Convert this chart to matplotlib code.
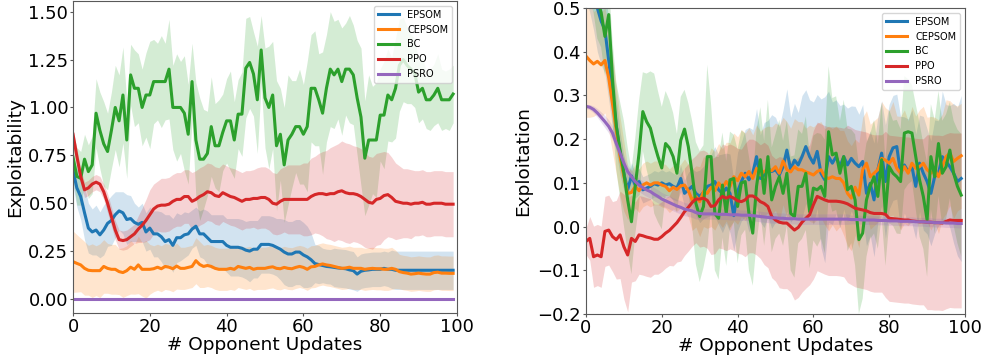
import numpy as np
import matplotlib
matplotlib.use("Agg")
import matplotlib.pyplot as plt

updates = np.arange(100)
labels = ["EPSOM", "CEPSOM", "BC", "PPO", "PSRO"]

# ---- left panel: exploitability ----
l_epsom = [0.67, 0.58, 0.535, 0.45, 0.37, 0.35, 0.36, 0.335, 0.36, 0.395,
           0.41, 0.44, 0.46, 0.45, 0.415, 0.42, 0.40, 0.39, 0.40, 0.35,
           0.37, 0.34, 0.34, 0.325, 0.30, 0.31, 0.28, 0.32, 0.32, 0.335,
           0.34, 0.365, 0.38, 0.34, 0.34, 0.32, 0.30, 0.30, 0.30, 0.30,
           0.28, 0.27, 0.27, 0.27, 0.265, 0.255, 0.25, 0.26, 0.26, 0.285,
           0.285, 0.285, 0.28, 0.27, 0.26, 0.245, 0.235, 0.235, 0.245, 0.245,
           0.23, 0.22, 0.205, 0.185, 0.18, 0.175, 0.17, 0.168, 0.165, 0.162,
           0.16, 0.158, 0.152, 0.148, 0.13, 0.145, 0.15, 0.152, 0.155, 0.155,
           0.155, 0.16, 0.155, 0.155, 0.15, 0.15, 0.15, 0.15, 0.15, 0.15,
           0.15, 0.15, 0.15, 0.15, 0.15, 0.15, 0.15, 0.15, 0.15, 0.15]
l_epsom_sd = [0.08, 0.10, 0.12, 0.14, 0.13, 0.12, 0.13, 0.12, 0.13, 0.12,
              0.13, 0.12, 0.10, 0.11, 0.13, 0.12, 0.10, 0.09, 0.10, 0.10,
              0.11, 0.12, 0.12, 0.13, 0.14, 0.13, 0.14, 0.13, 0.12, 0.12,
              0.11, 0.10, 0.10, 0.12, 0.13, 0.14, 0.14, 0.14, 0.14, 0.14,
              0.14, 0.15, 0.15, 0.15, 0.15, 0.15, 0.16, 0.15, 0.15, 0.15,
              0.15, 0.15, 0.15, 0.15, 0.16, 0.17, 0.17, 0.17, 0.17, 0.17,
              0.17, 0.16, 0.14, 0.10, 0.10, 0.09, 0.09, 0.09, 0.10, 0.10,
              0.10, 0.10, 0.10, 0.10, 0.09, 0.09, 0.09, 0.09, 0.09, 0.09,
              0.09, 0.09, 0.09, 0.10, 0.10, 0.10, 0.10, 0.10, 0.10, 0.10,
              0.10, 0.10, 0.10, 0.10, 0.10, 0.10, 0.10, 0.10, 0.10, 0.10]
l_cepsom = [0.195, 0.186, 0.178, 0.16, 0.15, 0.148, 0.148, 0.148, 0.17, 0.16,
            0.155, 0.155, 0.143, 0.138, 0.148, 0.166, 0.155, 0.178, 0.155, 0.155,
            0.155, 0.158, 0.166, 0.158, 0.17, 0.166, 0.158, 0.172, 0.16, 0.16,
            0.165, 0.17, 0.20, 0.18, 0.17, 0.175, 0.17, 0.16, 0.155, 0.155,
            0.155, 0.16, 0.155, 0.17, 0.165, 0.16, 0.165, 0.155, 0.16, 0.16,
            0.16, 0.165, 0.168, 0.16, 0.158, 0.165, 0.16, 0.158, 0.165, 0.17,
            0.165, 0.155, 0.168, 0.17, 0.178, 0.183, 0.178, 0.175, 0.17, 0.165,
            0.16, 0.162, 0.166, 0.16, 0.16, 0.16, 0.155, 0.158, 0.16, 0.158,
            0.158, 0.155, 0.155, 0.16, 0.155, 0.143, 0.138, 0.135, 0.13, 0.132,
            0.135, 0.132, 0.13, 0.13, 0.138, 0.14, 0.135, 0.135, 0.134, 0.134]
l_cepsom_sd = [0.16, 0.15, 0.14, 0.14, 0.13, 0.14, 0.13, 0.14, 0.14, 0.13,
               0.13, 0.13, 0.12, 0.13, 0.13, 0.14, 0.13, 0.15, 0.14, 0.15,
               0.13, 0.12, 0.12, 0.12, 0.12, 0.12, 0.12, 0.12, 0.11, 0.11,
               0.11, 0.11, 0.12, 0.12, 0.11, 0.11, 0.11, 0.11, 0.11, 0.11,
               0.11, 0.11, 0.11, 0.11, 0.11, 0.11, 0.11, 0.11, 0.11, 0.11,
               0.11, 0.11, 0.11, 0.11, 0.11, 0.11, 0.11, 0.11, 0.11, 0.11,
               0.11, 0.11, 0.11, 0.11, 0.11, 0.11, 0.11, 0.11, 0.11, 0.11,
               0.11, 0.11, 0.11, 0.11, 0.11, 0.11, 0.11, 0.11, 0.11, 0.11,
               0.11, 0.11, 0.11, 0.11, 0.10, 0.09, 0.09, 0.09, 0.09, 0.09,
               0.09, 0.09, 0.09, 0.09, 0.09, 0.09, 0.09, 0.09, 0.09, 0.09]
l_bc = [0.74, 0.64, 0.63, 0.73, 0.665, 0.70, 0.97, 0.88, 0.81, 0.77,
        0.88, 1.0, 0.93, 1.065, 0.83, 1.17, 1.10, 1.10, 1.0, 1.065,
        1.065, 1.135, 1.135, 1.135, 1.135, 1.20, 1.0, 1.0, 1.0, 0.97,
        0.86, 1.135, 0.83, 0.73, 0.73, 0.76, 0.90, 0.80, 0.80, 0.87,
        0.93, 0.93, 0.83, 0.965, 0.965, 1.205, 1.235, 1.175, 1.04, 1.30,
        1.05, 1.0, 1.065, 0.80, 0.86, 0.70, 0.83, 0.86, 0.90, 0.90,
        0.86, 0.90, 1.10, 1.10, 1.04, 0.97, 1.10, 1.20, 1.17, 1.20,
        1.135, 1.20, 1.20, 1.17, 1.05, 0.95, 0.735, 0.83, 0.83, 0.83,
        0.96, 0.96, 1.065, 1.04, 1.10, 1.22, 1.25, 1.22, 1.20, 1.18,
        1.08, 1.10, 1.04, 1.04, 1.065, 1.10, 1.04, 1.04, 1.04, 1.07]
l_bc_sd = [0.12, 0.15, 0.14, 0.13, 0.14, 0.15, 0.18, 0.20, 0.22, 0.20,
           0.20, 0.22, 0.24, 0.25, 0.20, 0.16, 0.20, 0.18, 0.20, 0.22,
           0.28, 0.22, 0.20, 0.24, 0.20, 0.26, 0.22, 0.28, 0.24, 0.30,
           0.26, 0.20, 0.30, 0.32, 0.26, 0.22, 0.26, 0.22, 0.24, 0.20,
           0.22, 0.26, 0.20, 0.18, 0.22, 0.26, 0.24, 0.22, 0.28, 0.18,
           0.26, 0.32, 0.28, 0.34, 0.24, 0.30, 0.34, 0.28, 0.24, 0.30,
           0.26, 0.34, 0.28, 0.30, 0.24, 0.32, 0.28, 0.30, 0.28, 0.26,
           0.28, 0.24, 0.28, 0.26, 0.30, 0.36, 0.30, 0.34, 0.28, 0.30,
           0.24, 0.28, 0.24, 0.22, 0.26, 0.24, 0.22, 0.20, 0.18, 0.18,
           0.16, 0.16, 0.15, 0.16, 0.16, 0.18, 0.16, 0.15, 0.16, 0.15]
l_ppo = [0.86, 0.745, 0.64, 0.57, 0.58, 0.60, 0.61, 0.60, 0.56, 0.50,
         0.43, 0.36, 0.31, 0.305, 0.31, 0.325, 0.34, 0.365, 0.385, 0.41,
         0.44, 0.47, 0.485, 0.49, 0.49, 0.495, 0.51, 0.52, 0.52, 0.535,
         0.535, 0.51, 0.52, 0.535, 0.545, 0.56, 0.555, 0.54, 0.535, 0.555,
         0.545, 0.535, 0.53, 0.52, 0.51, 0.52, 0.52, 0.525, 0.525, 0.53,
         0.53, 0.52, 0.50, 0.495, 0.51, 0.52, 0.52, 0.52, 0.52, 0.52,
         0.52, 0.52, 0.535, 0.545, 0.55, 0.55, 0.545, 0.55, 0.55, 0.56,
         0.565, 0.555, 0.55, 0.55, 0.545, 0.535, 0.52, 0.505, 0.50, 0.52,
         0.525, 0.54, 0.545, 0.53, 0.51, 0.505, 0.50, 0.50, 0.495, 0.50,
         0.50, 0.505, 0.495, 0.495, 0.50, 0.50, 0.50, 0.495, 0.495, 0.495]
l_ppo_sd = [0.03, 0.04, 0.04, 0.04, 0.04, 0.04, 0.04, 0.04, 0.04, 0.05,
            0.05, 0.05, 0.05, 0.05, 0.05, 0.05, 0.05, 0.07, 0.09, 0.11,
            0.13, 0.13, 0.13, 0.14, 0.14, 0.14, 0.14, 0.14, 0.14, 0.14,
            0.14, 0.15, 0.15, 0.15, 0.15, 0.15, 0.15, 0.15, 0.15, 0.15,
            0.15, 0.15, 0.15, 0.15, 0.15, 0.15, 0.15, 0.15, 0.16, 0.16,
            0.16, 0.16, 0.16, 0.16, 0.17, 0.17, 0.18, 0.18, 0.18, 0.18,
            0.19, 0.19, 0.20, 0.20, 0.21, 0.22, 0.23, 0.24, 0.25, 0.25,
            0.26, 0.26, 0.26, 0.25, 0.25, 0.25, 0.25, 0.24, 0.24, 0.24,
            0.24, 0.23, 0.22, 0.21, 0.20, 0.19, 0.18, 0.18, 0.18, 0.17,
            0.17, 0.17, 0.17, 0.17, 0.17, 0.17, 0.17, 0.17, 0.17, 0.17]
l_psro = [0.0] * 100

# ---- right panel: exploitation ----
r_epsom = [0.62, 0.59, 0.55, 0.50, 0.47, 0.45, 0.38, 0.305, 0.23, 0.168,
           0.122, 0.084, 0.116, 0.095, 0.103, 0.084, 0.088, 0.092, 0.098, 0.095,
           0.10, 0.095, 0.098, 0.092, 0.088, 0.11, 0.076, 0.084, 0.092, 0.076,
           0.069, 0.078, 0.092, 0.095, 0.103, 0.084, 0.076, 0.088, 0.076, 0.025,
           0.08, 0.103, 0.122, 0.107, 0.122, 0.16, 0.11, 0.118, 0.133, 0.126,
           0.13, 0.118, 0.137, 0.175, 0.13, 0.152, 0.141, 0.16, 0.183, 0.16,
           0.145, 0.172, 0.122, 0.107, 0.16, 0.145, 0.16, 0.137, 0.16, 0.141,
           0.156, 0.145, 0.137, 0.149, 0.076, 0.099, 0.061, 0.13, 0.168, 0.103,
           0.16, 0.18, 0.183, 0.122, 0.141, 0.126, 0.137, 0.092, 0.145, 0.122,
           0.103, 0.076, 0.114, 0.122, 0.16, 0.149, 0.137, 0.122, 0.103, 0.11]
r_epsom_sd = [0.10, 0.10, 0.10, 0.10, 0.10, 0.10, 0.09, 0.08, 0.06, 0.05,
              0.04, 0.03, 0.03, 0.03, 0.03, 0.03, 0.03, 0.03, 0.03, 0.03,
              0.03, 0.03, 0.03, 0.03, 0.03, 0.03, 0.03, 0.04, 0.04, 0.05,
              0.06, 0.06, 0.07, 0.07, 0.08, 0.08, 0.09, 0.08, 0.09, 0.08,
              0.09, 0.09, 0.10, 0.12, 0.10, 0.11, 0.10, 0.12, 0.11, 0.13,
              0.12, 0.11, 0.13, 0.14, 0.12, 0.13, 0.12, 0.14, 0.13, 0.13,
              0.14, 0.13, 0.17, 0.19, 0.15, 0.14, 0.13, 0.14, 0.12, 0.13,
              0.12, 0.13, 0.12, 0.13, 0.12, 0.12, 0.13, 0.12, 0.12, 0.13,
              0.12, 0.12, 0.12, 0.13, 0.11, 0.12, 0.13, 0.12, 0.11, 0.13,
              0.12, 0.12, 0.13, 0.12, 0.15, 0.13, 0.14, 0.16, 0.17, 0.19]
r_cepsom = [0.39, 0.38, 0.372, 0.378, 0.37, 0.38, 0.34, 0.28, 0.22, 0.16,
            0.115, 0.076, 0.078, 0.092, 0.082, 0.095, 0.10, 0.095, 0.10, 0.10,
            0.095, 0.092, 0.082, 0.09, 0.085, 0.093, 0.095, 0.082, 0.061, 0.069,
            0.057, 0.08, 0.076, 0.09, 0.082, 0.10, 0.088, 0.103, 0.092, 0.114,
            0.105, 0.122, 0.114, 0.126, 0.11, 0.133, 0.118, 0.126, 0.13, 0.128,
            0.137, 0.122, 0.15, 0.13, 0.125, 0.137, 0.13, 0.13, 0.125, 0.122,
            0.118, 0.126, 0.13, 0.114, 0.11, 0.114, 0.11, 0.11, 0.10, 0.076,
            0.065, 0.09, 0.072, 0.13, 0.145, 0.114, 0.122, 0.13, 0.156, 0.152,
            0.145, 0.156, 0.133, 0.122, 0.137, 0.122, 0.145, 0.133, 0.137, 0.145,
            0.13, 0.122, 0.13, 0.114, 0.137, 0.16, 0.168, 0.149, 0.156, 0.162]
r_cepsom_sd = [0.14, 0.13, 0.12, 0.12, 0.12, 0.12, 0.12, 0.11, 0.10, 0.09,
               0.08, 0.06, 0.05, 0.05, 0.05, 0.05, 0.05, 0.05, 0.05, 0.05,
               0.05, 0.05, 0.05, 0.05, 0.05, 0.05, 0.06, 0.06, 0.07, 0.07,
               0.08, 0.08, 0.08, 0.09, 0.09, 0.09, 0.09, 0.09, 0.10, 0.10,
               0.10, 0.10, 0.10, 0.10, 0.10, 0.10, 0.10, 0.10, 0.10, 0.10,
               0.10, 0.11, 0.10, 0.11, 0.10, 0.11, 0.11, 0.11, 0.10, 0.11,
               0.11, 0.11, 0.11, 0.11, 0.12, 0.11, 0.12, 0.11, 0.12, 0.12,
               0.12, 0.11, 0.12, 0.12, 0.12, 0.12, 0.12, 0.12, 0.13, 0.12,
               0.12, 0.13, 0.12, 0.13, 0.13, 0.12, 0.13, 0.12, 0.13, 0.13,
               0.12, 0.13, 0.12, 0.13, 0.12, 0.13, 0.12, 0.13, 0.12, 0.12]
r_bc = [0.62, 0.60, 0.57, 0.52, 0.49, 0.435, 0.485, 0.336, 0.23, 0.175,
        0.122, 0.061, 0.011, 0.092, 0.168, 0.263, 0.24, 0.225, 0.19, 0.16,
        0.134, 0.19, 0.18, 0.16, 0.122, 0.197, 0.223, 0.183, 0.122, 0.053,
        0.023, 0.046, 0.16, 0.16, 0.03, 0.019, 0.095, 0.03, 0.107, 0.11,
        0.046, 0.10, 0.103, 0.03, -0.015, 0.092, 0.153, 0.076, 0.16, 0.061,
        0.092, 0.114, 0.076, 0.122, 0.03, 0.023, 0.092, 0.092, 0.122, 0.034,
        0.088, 0.084, 0.092, 0.069, 0.217, 0.164, 0.168, 0.122, 0.16, 0.084,
        0.092, 0.061, -0.03, -0.015, 0.061, 0.092, 0.114, 0.069, 0.153, 0.03,
        0.137, 0.122, 0.114, 0.103, 0.214, 0.217, 0.214, 0.16, 0.107, 0.069,
        0.015, 0.16, 0.114, 0.19, 0.122, 0.137, 0.175, 0.122, 0.092, 0.072]
r_bc_sd = [0.08, 0.08, 0.08, 0.09, 0.08, 0.09, 0.08, 0.09, 0.10, 0.11,
           0.12, 0.12, 0.12, 0.11, 0.12, 0.09, 0.11, 0.13, 0.16, 0.15,
           0.14, 0.12, 0.11, 0.10, 0.09, 0.10, 0.09, 0.10, 0.12, 0.14,
           0.15, 0.14, 0.21, 0.12, 0.13, 0.14, 0.12, 0.12, 0.11, 0.10,
           0.13, 0.12, 0.11, 0.13, 0.12, 0.13, 0.12, 0.12, 0.13, 0.12,
           0.12, 0.13, 0.12, 0.12, 0.13, 0.14, 0.13, 0.12, 0.13, 0.13,
           0.12, 0.13, 0.12, 0.13, 0.15, 0.13, 0.13, 0.12, 0.13, 0.14,
           0.13, 0.15, 0.17, 0.15, 0.13, 0.12, 0.13, 0.12, 0.13, 0.12,
           0.13, 0.12, 0.13, 0.12, 0.13, 0.12, 0.11, 0.12, 0.13, 0.12,
           0.13, 0.12, 0.13, 0.12, 0.12, 0.12, 0.11, 0.12, 0.13, 0.14]
r_ppo = [-0.034, -0.027, -0.069, -0.065, -0.069, -0.011, -0.008, -0.023, -0.03, -0.019,
         -0.046, -0.065, -0.027, -0.034, -0.019, -0.021, -0.024, -0.026, -0.029, -0.029,
         -0.023, -0.015, -0.009, 0.0, 0.009, 0.021, 0.034, 0.044, 0.055, 0.063,
         0.063, 0.065, 0.06, 0.046, 0.048, 0.061, 0.069, 0.065, 0.069, 0.065,
         0.059, 0.057, 0.061, 0.07, 0.07, 0.065, 0.057, 0.053, 0.046, 0.023,
         0.015, 0.01, 0.008, 0.008, 0.0, -0.008, -0.002, 0.01, 0.019, 0.027,
         0.05, 0.069, 0.065, 0.061, 0.058, 0.058, 0.058, 0.057, 0.055, 0.052,
         0.047, 0.042, 0.04, 0.038, 0.036, 0.032, 0.03, 0.03, 0.03, 0.028,
         0.019, 0.018, 0.017, 0.016, 0.015, 0.015, 0.013, 0.012, 0.011, 0.011,
         0.01, 0.01, 0.009, 0.009, 0.008, 0.012, 0.015, 0.014, 0.014, 0.014]
r_ppo_sd = [0.03, 0.05, 0.07, 0.07, 0.07, 0.08, 0.08, 0.08, 0.09, 0.10,
            0.12, 0.13, 0.10, 0.09, 0.09, 0.09, 0.09, 0.09, 0.08, 0.08,
            0.08, 0.08, 0.08, 0.09, 0.09, 0.10, 0.10, 0.10, 0.10, 0.10,
            0.11, 0.11, 0.11, 0.11, 0.11, 0.11, 0.12, 0.12, 0.12, 0.12,
            0.12, 0.12, 0.13, 0.13, 0.13, 0.13, 0.13, 0.14, 0.14, 0.14,
            0.14, 0.15, 0.15, 0.15, 0.15, 0.16, 0.16, 0.16, 0.16, 0.16,
            0.17, 0.17, 0.17, 0.17, 0.17, 0.17, 0.17, 0.17, 0.17, 0.18,
            0.18, 0.18, 0.18, 0.18, 0.18, 0.18, 0.18, 0.18, 0.18, 0.19,
            0.19, 0.19, 0.19, 0.19, 0.19, 0.19, 0.19, 0.19, 0.19, 0.19,
            0.20, 0.20, 0.20, 0.20, 0.20, 0.20, 0.20, 0.20, 0.20, 0.20]
r_psro = [0.275, 0.273, 0.268, 0.26, 0.25, 0.24, 0.229, 0.214, 0.19, 0.168,
          0.145, 0.126, 0.114, 0.103, 0.095, 0.089, 0.084, 0.08, 0.074, 0.069,
          0.063, 0.059, 0.055, 0.051, 0.047, 0.044, 0.04, 0.038, 0.036, 0.032,
          0.03, 0.029, 0.029, 0.029, 0.029, 0.028, 0.028, 0.028, 0.027, 0.027,
          0.027, 0.026, 0.026, 0.026, 0.025, 0.024, 0.023, 0.022, 0.021, 0.02,
          0.02, 0.019, 0.019, 0.018, 0.018, 0.018, 0.017, 0.017, 0.017, 0.017,
          0.017, 0.017, 0.017, 0.017, 0.017, 0.017, 0.017, 0.017, 0.017, 0.017,
          0.016, 0.016, 0.016, 0.015, 0.015, 0.015, 0.015, 0.014, 0.014, 0.014,
          0.013, 0.013, 0.013, 0.012, 0.012, 0.012, 0.012, 0.011, 0.011, 0.011,
          0.01, 0.01, 0.009, 0.009, 0.009, 0.008, 0.008, 0.008, 0.007, 0.007]
r_psro_sd = [0.005, 0.006, 0.008, 0.01, 0.012, 0.014, 0.015, 0.016, 0.016, 0.016,
             0.016, 0.015, 0.015, 0.015, 0.015, 0.015, 0.015, 0.015, 0.015, 0.015,
             0.015, 0.015, 0.015, 0.015, 0.015, 0.015, 0.015, 0.015, 0.015, 0.015,
             0.012, 0.012, 0.012, 0.012, 0.012, 0.012, 0.012, 0.012, 0.012, 0.012,
             0.012, 0.012, 0.012, 0.012, 0.012, 0.012, 0.012, 0.012, 0.012, 0.012,
             0.012, 0.012, 0.012, 0.012, 0.012, 0.012, 0.012, 0.012, 0.012, 0.012,
             0.012, 0.012, 0.012, 0.012, 0.012, 0.012, 0.012, 0.012, 0.012, 0.012,
             0.01, 0.01, 0.01, 0.01, 0.01, 0.01, 0.01, 0.01, 0.01, 0.01,
             0.01, 0.01, 0.01, 0.01, 0.01, 0.01, 0.01, 0.01, 0.01, 0.01,
             0.01, 0.01, 0.01, 0.01, 0.01, 0.01, 0.01, 0.01, 0.01, 0.01]

colors = ["tab:blue", "tab:orange", "tab:green", "tab:red", "tab:purple"]


def draw_panel(ax, means, sds):
    for lab, col, m, s in zip(labels, colors, means, sds):
        m = np.array(m)
        ax.plot(updates, m, color=col, lw=2.2, label=lab)
        if s is not None:
            s = np.array(s)
            ax.fill_between(updates, m - s, m + s, color=col, alpha=0.2, lw=0)
    ax.set_xlim(0, 100)
    ax.set_xticks([0, 20, 40, 60, 80, 100])
    ax.tick_params(labelsize=13, length=2, width=0.8, pad=1.5, color="0.35")
    for sp in ax.spines.values():
        sp.set_color("0.35")
    ax.set_xlabel("# Opponent Updates", fontsize=13.3, labelpad=0)
    ax.legend(loc="upper right", fontsize=7, handlelength=2.2)


fig = plt.figure(figsize=(9.84, 3.62), dpi=100)

ax1 = fig.add_axes([0.0742, 0.1354, 0.3902, 0.862])
draw_panel(ax1, [l_epsom, l_cepsom, l_bc, l_ppo, l_psro],
           [l_epsom_sd, l_cepsom_sd, l_bc_sd, l_ppo_sd, None])
ax1.set_ylim(-0.073, 1.556)
ax1.set_yticks([0.0, 0.25, 0.5, 0.75, 1.0, 1.25, 1.5])
ax1.set_ylabel("Exploitability", fontsize=13.3, labelpad=3)

ax2 = fig.add_axes([0.5955, 0.1326, 0.3852, 0.8453])
draw_panel(ax2, [r_epsom, r_cepsom, r_bc, r_ppo, r_psro],
           [r_epsom_sd, r_cepsom_sd, r_bc_sd, r_ppo_sd, r_psro_sd])
ax2.set_ylim(-0.2, 0.5)
ax2.set_yticks([-0.2, -0.1, 0.0, 0.1, 0.2, 0.3, 0.4, 0.5])
ax2.set_ylabel("Exploitation", fontsize=13.3, labelpad=4)

fig.savefig("out.png", dpi=100)
